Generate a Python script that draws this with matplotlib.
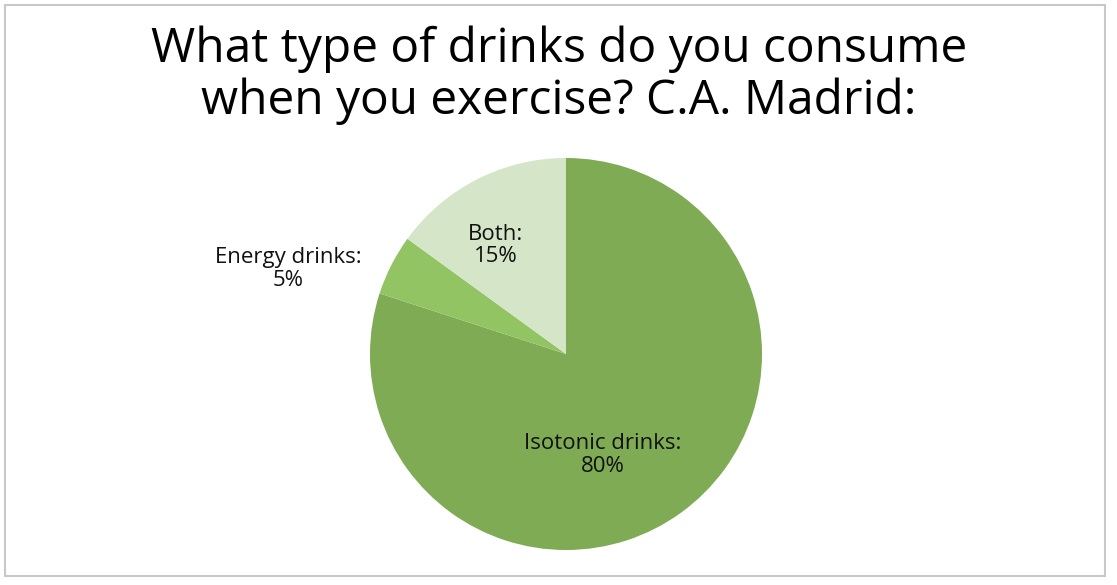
import numpy as np
import matplotlib.pyplot as plt
from matplotlib.patches import Rectangle

# --- datos ---
categories = ['Isotonic drinks', 'Energy drinks', 'Both']
values = [80, 5, 15]
colors = ['#7fab54', '#92c464', '#d5e6c8']
title = 'What type of drinks do you consume\nwhen you exercise? C.A. Madrid:'

# label placement (radius fraction, angle offset in deg) per slice
label_pos = [(0.55, -16), (1.48, 10), (0.66, 6)]

W, H = 1117, 585
fig = plt.figure(figsize=(W / 100, H / 100), dpi=100)
plt.rcParams['font.family'] = ['Open Sans', 'DejaVu Sans']

# marco gris
fig.patches.append(Rectangle((5 / W, 1 - 576 / H), 1100 / W, 571 / H,
                             transform=fig.transFigure, fill=False,
                             edgecolor='#c8c8c8', linewidth=1.5))

fig.text(559 / W, 1 - 75 / H, title, ha='center', va='center',
         fontsize=34.5, linespacing=1.13, color='black')

cx, cy, r = 566, 354, 196
ax = fig.add_axes([(cx - r) / W, (H - cy - r) / H, 2 * r / W, 2 * r / H])
wedges, _ = ax.pie(values, colors=colors, startangle=90, counterclock=False,
                   radius=1.0, wedgeprops=dict(linewidth=0))
ax.set_xlim(-1, 1)
ax.set_ylim(-1, 1)
ax.set_aspect('equal')
ax.axis('off')

for w, cat, v, (d, off) in zip(wedges, categories, values, label_pos):
    ang = np.deg2rad((w.theta1 + w.theta2) / 2 + off)
    ax.text(d * np.cos(ang), d * np.sin(ang), f'{cat}:\n{v}%', ha='center',
            va='center', fontsize=16, linespacing=1.1, color='#111111',
            clip_on=False)

fig.savefig('out.png', dpi=100)
